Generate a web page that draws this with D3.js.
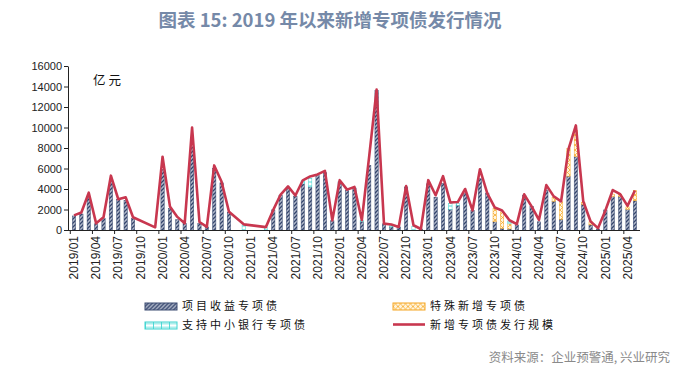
<!DOCTYPE html>
<html>
<head>
<meta charset="utf-8">
<script src="https://cdn.jsdelivr.net/npm/d3@7/dist/d3.min.js"></script>
<style>
  body { margin: 0; background: #fff; }
  svg { display: block; }
</style>
</head>
<body>
<svg></svg>
<script>
// months 2019/01 .. 2025/05
var months = [];
for (var yr = 2019; yr <= 2025; yr++) {
    for (var mo = 1; mo <= 12; mo++) {
        if (yr == 2025 && mo > 5) break;
        months.push(yr + "/" + String(mo).padStart(2, "0"));
    }
}

// 新增专项债发行规模 (亿元), null = no issue that month
var total = [
    1430, 1700, 3640, 650, 1240, 5300, 3000, 3200, 1240, null, null, 260,
    7150, 2300, 1280, 650, 10000, 780, 300, 6300, 4700, 1780, null, 550,
    null, null, 280, 1960, 3460, 4250, 3370, 4850, 5230, 5420, 5770, 940,
    4860, 3940, 4200, 950, 7200, 13700, 620, 540, 300, 4280, 460, 100,
    4860, 3390, 5250, 2680, 2730, 4000, 1920, 5930, 3570, 2200, 1900, 950,
    570, 3480, 2300, 980, 4380, 3280, 2800, 7900, 10200, 2800, 830, 180,
    1900, 3900, 3500, 2350, 3850
];

// 项目收益专项债
var xmsy = [
    1370, 1560, 3200, 600, 1100, 4800, 3000, 2900, 1100, 0, 0, 0,
    5900, 2100, 1000, 650, 8100, 650, 300, 6000, 4600, 1750, 0, 0,
    0, 0, 0, 1960, 3400, 4050, 3300, 4500, 4200, 5300, 5600, 900,
    4700, 3850, 4100, 800, 6300, 13600, 600, 300, 300, 4200, 0, 100,
    4500, 3200, 4550, 2000, 2400, 3600, 1900, 5000, 3600, 800, 150, 100,
    500, 3400, 2300, 800, 3900, 2800, 1050, 5250, 7150, 2500, 500, 100,
    1950, 3250, 3250, 2000, 2850
];

// 特殊新增专项债
var tsxz = [
    0, 0, 0, 0, 0, 0, 0, 0, 0, 0, 0, 0,
    0, 0, 0, 0, 0, 0, 0, 0, 0, 0, 0, 0,
    0, 0, 0, 0, 0, 0, 0, 0, 0, 0, 0, 0,
    0, 0, 0, 0, 0, 0, 0, 0, 0, 0, 0, 0,
    0, 0, 0, 0, 0, 0, 0, 0, 0, 1300, 1600, 500,
    0, 0, 0, 0, 0, 350, 1700, 2700, 2550, 200, 300, 0,
    0, 250, 200, 250, 1000
];

// 支持中小银行专项债
var zczx = [
    0, 0, 0, 0, 0, 0, 0, 0, 0, 0, 0, 0,
    0, 0, 0, 0, 0, 0, 0, 0, 0, 0, 0, 500,
    0, 0, 250, 0, 0, 0, 0, 300, 850, 0, 0, 0,
    0, 0, 0, 150, 0, 0, 0, 200, 0, 0, 350, 0,
    0, 0, 0, 600, 200, 0, 0, 0, 0, 0, 0, 300,
    0, 0, 0, 0, 0, 0, 0, 0, 0, 0, 0, 0,
    0, 0, 0, 0, 0
];

var yTicks = [0, 2000, 4000, 6000, 8000, 10000, 12000, 14000, 16000];

var keys = ["xmsy", "tsxz", "zczx"];
var names = { xmsy: "项目收益专项债", tsxz: "特殊新增专项债", zczx: "支持中小银行专项债", total: "新增专项债发行规模" };

var table = months.map((m, i) => ({ month: m, xmsy: xmsy[i], tsxz: tsxz[i], zczx: zczx[i], total: total[i] }));

const svgWidth = 694, svgHeight = 375;
var svg = d3.select("svg").attr("width", svgWidth).attr("height", svgHeight);

var defs = svg.append("defs");

// hatch patterns
var pNavy = defs.append("pattern").attr("id", "p-xmsy")
    .attr("patternUnits", "userSpaceOnUse").attr("width", 4).attr("height", 4);
pNavy.append("rect").attr("width", 4).attr("height", 4).attr("fill", "#b2bacb");
pNavy.append("path").attr("d", "M-1,1 l2,-2 M0,4 l4,-4 M3,5 l2,-2")
    .attr("stroke", "#33446c").attr("stroke-width", 1.3);

var pOrange = defs.append("pattern").attr("id", "p-tsxz")
    .attr("patternUnits", "userSpaceOnUse").attr("width", 5).attr("height", 5);
pOrange.append("rect").attr("width", 5).attr("height", 5).attr("fill", "#fff4dc");
pOrange.append("path").attr("d", "M0,0 L5,5 M5,0 L0,5")
    .attr("stroke", "#f6aa2c").attr("stroke-width", 0.8);

var pCyan = defs.append("pattern").attr("id", "p-zczx")
    .attr("patternUnits", "userSpaceOnUse").attr("width", 8).attr("height", 4);
pCyan.append("rect").attr("width", 8).attr("height", 4).attr("fill", "#ffffff");
pCyan.append("path").attr("d", "M0,2 H8 M0.5,0 V4")
    .attr("stroke", "#43d6d2").attr("stroke-width", 0.9);

var strokeOf = { xmsy: "#3a4a70", tsxz: "#f5a623", zczx: "#40d4d0" };

var x = d3.scaleBand()
    .domain(months)
    .range([70.3, 638.6])
    .paddingInner(0.55)
    .paddingOuter(0.275);

var y = d3.scaleLinear()
    .domain([0, 16000])
    .range([230, 66]);

var cx = m => x(m) + x.bandwidth() / 2;

// title
svg.append("text")
    .attr("x", 330).attr("y", 27)
    .attr("text-anchor", "middle")
    .attr("font-family", "Noto Sans CJK SC")
    .attr("font-weight", "bold")
    .attr("font-size", 18.5)
    .attr("fill", "#7589a8")
    .text("图表 15: 2019 年以来新增专项债发行情况");

// stacked bars
var series = d3.stack().keys(keys)(table);

svg.append("g").selectAll("g")
    .data(series)
    .join("g")
    .attr("fill", d => "url(#p-" + d.key + ")")
    .attr("stroke", d => strokeOf[d.key])
    .attr("stroke-width", 0.5)
    .selectAll("rect")
    .data(d => d.filter(s => s[1] - s[0] > 0))
    .join("rect")
    .attr("x", d => x(d.data.month))
    .attr("width", x.bandwidth())
    .attr("y", d => y(d[1]))
    .attr("height", d => y(d[0]) - y(d[1]));

// axes
var yAxis = d3.axisLeft(y).tickValues(yTicks).tickFormat(d3.format("d")).tickSize(4).tickSizeOuter(0);
var gy = svg.append("g").attr("transform", "translate(68,0)").call(yAxis);
gy.selectAll(".tick text")
    .attr("font-family", "Liberation Sans")
    .attr("font-size", 11)
    .attr("fill", "#222")
    .attr("x", -6);

var labelMonths = months.filter((m, i) => i % 3 == 0);
var xAxis = d3.axisBottom(x).tickValues(labelMonths).tickSize(0).tickSizeOuter(0);
var gx = svg.append("g").attr("transform", "translate(0,230)").call(xAxis);
gx.select(".domain").attr("d", "M68,0.5H640");
gx.selectAll(".tick text")
    .attr("font-family", "Liberation Sans")
    .attr("font-size", 12)
    .attr("fill", "#222")
    .attr("transform", "rotate(-90)")
    .attr("text-anchor", "end")
    .attr("x", -6)
    .attr("y", 0)
    .attr("dy", "0.35em");

// tick marks between quarters
var half = x.step() * x.paddingInner() / 2;
svg.append("g").selectAll("line")
    .data(labelMonths)
    .join("line")
    .attr("x1", d => x(d) - half)
    .attr("x2", d => x(d) - half)
    .attr("y1", 230)
    .attr("y2", 234)
    .attr("stroke", "#222");

svg.selectAll(".domain").attr("stroke", "#222");
gy.selectAll(".tick line").attr("stroke", "#222");

// total line, skipping empty months
var line = d3.line()
    .x(d => cx(d.month))
    .y(d => y(d.total));

svg.append("path")
    .datum(table.filter(d => d.total != null))
    .attr("fill", "none")
    .attr("stroke", "#c8374f")
    .attr("stroke-width", 2.6)
    .attr("stroke-linejoin", "round")
    .attr("d", line);

// unit
svg.append("text")
    .attr("x", 93).attr("y", 85)
    .attr("font-family", "Noto Sans CJK SC")
    .attr("font-size", 12.5)
    .attr("letter-spacing", 3)
    .attr("fill", "#111")
    .text("亿元");

// legend
var legend = [
    { key: "xmsy", x: 145, y: 306.5 },
    { key: "tsxz", x: 393, y: 306.5 },
    { key: "zczx", x: 145, y: 325.5 },
    { key: "total", x: 393, y: 325.5 }
];

var lg = svg.append("g").selectAll("g")
    .data(legend)
    .join("g")
    .attr("transform", d => "translate(" + d.x + "," + d.y + ")");

lg.filter(d => d.key != "total")
    .append("rect")
    .attr("x", 0).attr("y", -3.5)
    .attr("width", 32).attr("height", 7)
    .attr("fill", d => "url(#p-" + d.key + ")")
    .attr("stroke", d => strokeOf[d.key])
    .attr("stroke-width", 1);

lg.filter(d => d.key == "total")
    .append("line")
    .attr("x1", 0).attr("x2", 32)
    .attr("y1", -1).attr("y2", -1)
    .attr("stroke", "#c8374f")
    .attr("stroke-width", 2.6);

lg.append("text")
    .attr("x", 37).attr("y", 0)
    .attr("dy", "0.36em")
    .attr("font-family", "Noto Sans CJK SC")
    .attr("font-size", 11)
    .attr("letter-spacing", 3)
    .attr("fill", "#111")
    .text(d => names[d.key]);

// source
svg.append("text")
    .attr("x", 670).attr("y", 362)
    .attr("text-anchor", "end")
    .attr("font-family", "Noto Sans CJK SC")
    .attr("font-size", 12.5)
    .attr("fill", "#8a8a8a")
    .text("资料来源：企业预警通, 兴业研究");
</script>
</body>
</html>
